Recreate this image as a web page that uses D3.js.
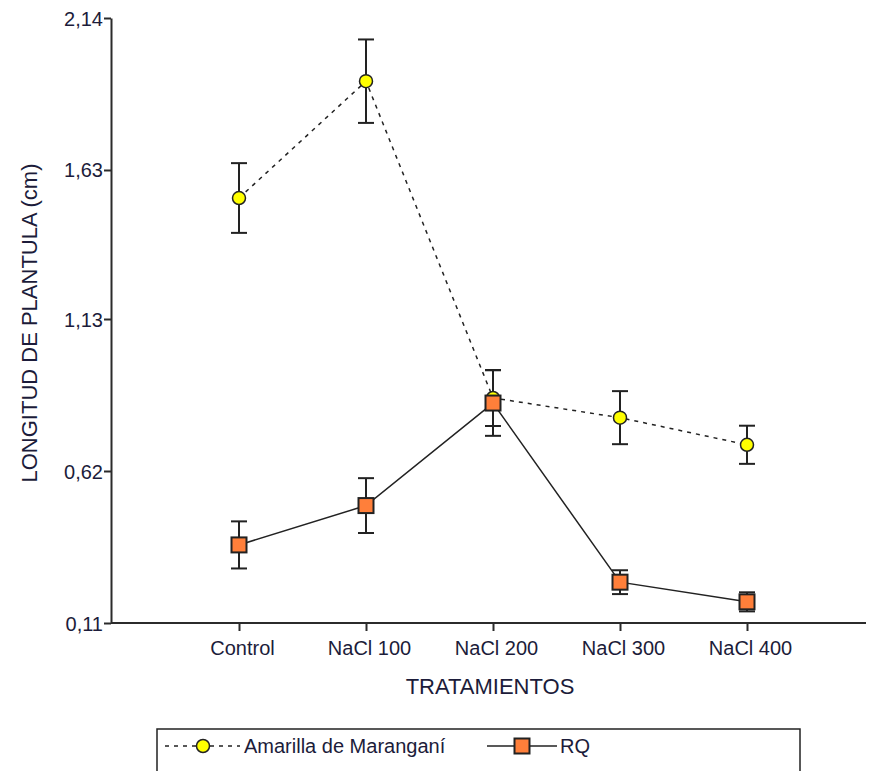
<!DOCTYPE html>
<html>
<head>
<meta charset="utf-8">
<script src="https://cdn.jsdelivr.net/npm/d3@7"></script>
<style>
  html, body { margin: 0; padding: 0; background: #fff; }
  svg { display: block; }
  text { font-family: "Liberation Sans", Arial, sans-serif; fill: #1c1c3a; }
</style>
</head>
<body>
<svg id="chart" width="870" height="771"></svg>
<script>
// Treatments on the x axis
const categories = ["Control", "NaCl 100", "NaCl 200", "NaCl 300", "NaCl 400"];
// Mean seedling length (cm) and error (±) per variety
const amarillaValues = [1.536, 1.928, 0.865, 0.799, 0.708];
const amarillaErrors = [0.117, 0.140, 0.094, 0.089, 0.064];
const rqValues = [0.372, 0.504, 0.848, 0.247, 0.181];
const rqErrors = [0.079, 0.092, 0.110, 0.040, 0.032];
// Y axis ticks
const yTicks = [0.11, 0.62, 1.13, 1.63, 2.14];
const yTickLabels = ["0,11", "0,62", "1,13", "1,63", "2,14"];
const seriesNames = ["Amarilla de Maranganí", "RQ"];

const svg = d3.select("#chart");
const axisColor = "#2b2b2b";
const textColor = "#1c1c3a";
const font = "'Liberation Sans', Arial, sans-serif";

const x = d3.scalePoint().domain(categories).range([239, 747]);
const y = d3.scaleLinear().domain([0.11, 2.14]).range([623, 18]);
const xLeft = 111, xRight = 866;

// Y axis
const yAxis = d3.axisLeft(y).tickValues(yTicks)
  .tickFormat((d, i) => yTickLabels[i]).tickSize(7).tickSizeOuter(0);
const gy = svg.append("g").attr("transform", `translate(${xLeft},0)`).call(yAxis);
gy.select(".domain").attr("stroke", axisColor).attr("stroke-width", 2);
gy.selectAll(".tick line").attr("stroke", axisColor).attr("stroke-width", 2);
gy.selectAll(".tick text").attr("font-size", 20).attr("x", -8).attr("dy", "0.35em")
  .style("font-family", font).attr("fill", textColor);

// X axis
const xAxis = d3.axisBottom(x).tickSize(8).tickSizeOuter(0).tickPadding(10);
const gx = svg.append("g").attr("transform", "translate(0,623)").call(xAxis);
gx.select(".domain").attr("d", `M${xLeft},0H${xRight}`).attr("stroke", axisColor).attr("stroke-width", 2);
gx.selectAll(".tick line").attr("stroke", axisColor).attr("stroke-width", 2);
gx.selectAll(".tick text").attr("font-size", 20).attr("dx", 3)
  .style("font-family", font).attr("fill", textColor);

// Axis titles
svg.append("text").attr("x", 490).attr("y", 694).attr("text-anchor", "middle")
  .attr("font-size", 22).text("TRATAMIENTOS");
svg.append("text").attr("transform", "translate(37,323) rotate(-90)")
  .attr("text-anchor", "middle").attr("font-size", 22).text("LONGITUD DE PLANTULA (cm)");

const line = d3.line().x((d, i) => x(categories[i])).y(d => y(d));

function errorBars(values, errors) {
  const g = svg.append("g").attr("stroke", "#222").attr("stroke-width", 2).attr("fill", "none");
  values.forEach((v, i) => {
    const cx = x(categories[i]);
    const top = y(v + errors[i]), bot = y(v - errors[i]);
    g.append("line").attr("x1", cx).attr("x2", cx).attr("y1", top).attr("y2", bot);
    g.append("line").attr("x1", cx - 8).attr("x2", cx + 8).attr("y1", top).attr("y2", top);
    g.append("line").attr("x1", cx - 8).attr("x2", cx + 8).attr("y1", bot).attr("y2", bot);
  });
}

// Lines
svg.append("path").datum(amarillaValues).attr("d", line).attr("fill", "none")
  .attr("stroke", "#222").attr("stroke-width", 1.5).attr("stroke-dasharray", "4,5");
svg.append("path").datum(rqValues).attr("d", line).attr("fill", "none")
  .attr("stroke", "#222").attr("stroke-width", 1.5);

errorBars(amarillaValues, amarillaErrors);
errorBars(rqValues, rqErrors);

function diamondMarker(sel, cx, cy) {
  sel.append("circle").attr("cx", cx).attr("cy", cy).attr("r", 6.5)
    .attr("fill", "#ffff00").attr("stroke", "#222").attr("stroke-width", 1.5);
}
function squareMarker(sel, cx, cy) {
  sel.append("rect").attr("x", cx - 7.5).attr("y", cy - 7.5).attr("width", 15).attr("height", 15)
    .attr("fill", "#ff7f3a").attr("stroke", "#222").attr("stroke-width", 2);
}

const markers = svg.append("g");
amarillaValues.forEach((v, i) => diamondMarker(markers, x(categories[i]), y(v)));
rqValues.forEach((v, i) => squareMarker(markers, x(categories[i]), y(v)));

// Legend
const lg = svg.append("g");
lg.append("rect").attr("x", 157).attr("y", 729).attr("width", 643).attr("height", 60)
  .attr("fill", "none").attr("stroke", "#222").attr("stroke-width", 1.5);
lg.append("line").attr("x1", 165).attr("x2", 240).attr("y1", 746).attr("y2", 746)
  .attr("stroke", "#222").attr("stroke-width", 1.5).attr("stroke-dasharray", "4,5");
diamondMarker(lg, 203, 746);
lg.append("text").attr("x", 244).attr("y", 753).attr("font-size", 20).text(seriesNames[0]);
lg.append("line").attr("x1", 487).attr("x2", 557).attr("y1", 746).attr("y2", 746)
  .attr("stroke", "#222").attr("stroke-width", 1.5);
squareMarker(lg, 522, 746);
lg.append("text").attr("x", 560).attr("y", 753).attr("font-size", 20).text(seriesNames[1]);
</script>
</body>
</html>
